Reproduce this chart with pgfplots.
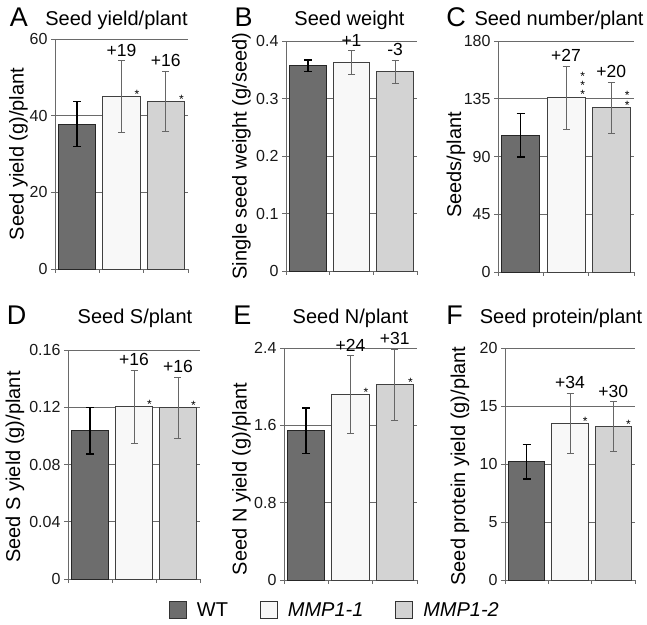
\documentclass[border=0pt]{standalone}
\usepackage{pgfplots}
\pgfplotsset{compat=1.18}
\usepackage{fontspec}
\setmainfont{Liberation Sans}
\definecolor{cWT}{HTML}{6D6D6D}
\definecolor{cM1}{HTML}{F8F8F8}
\definecolor{cM2}{HTML}{D3D3D3}
\definecolor{cGrid}{HTML}{6A6A6A}
\pgfplotsset{
  panel/.style={
    scale only axis, anchor=south west,
    xmin=-0.5, xmax=2.5, ymin=0,
    axis x line*=bottom, axis y line*=left,
    xtick={-0.5,0.5,1.5,2.5}, xticklabels={},
    tick align=outside, major tick length=4pt,
    ymajorgrids,
    grid style={line width=0.8pt, draw=cGrid},
    axis line style={line width=0.8pt, draw=cGrid},
    tick style={line width=0.8pt, draw=cGrid},
    yticklabel style={font=\fontsize{16}{18}\selectfont, text=black!90},
    /pgf/number format/assume math mode=true,
    clip=false,
  },
  wt/.style={ybar, bar width=0.84, fill=cWT, draw=black!85, line width=0.8pt,
    error bars/.cd, y dir=both, y explicit,
    error bar style={black, line width=1.4pt},
    error mark options={rotate=90, mark size=4pt, black, line width=1.4pt}},
  m1/.style={ybar, bar width=0.84, fill=cM1, draw=black!75, line width=0.8pt,
    error bars/.cd, y dir=both, y explicit,
    error bar style={black!60, line width=0.9pt},
    error mark options={rotate=90, mark size=3.5pt, black!60, line width=0.9pt}},
  m2/.style={ybar, bar width=0.84, fill=cM2, draw=black!75, line width=0.8pt,
    error bars/.cd, y dir=both, y explicit,
    error bar style={black!60, line width=0.9pt},
    error mark options={rotate=90, mark size=3.5pt, black!60, line width=0.9pt}},
  legsq/.style={legend image code/.code={\draw[##1, line width=0.8pt, draw=black!80] (0pt,-8.5pt) rectangle (17pt,8.5pt);}},
}
\tikzset{
  ann/.style={anchor=base, yshift=4.5pt, inner sep=0pt, font=\fontsize{17.5}{20}\selectfont},
  ast/.style={anchor=base, yshift=-1.6pt, inner sep=0pt, font=\fontsize{12}{12}\selectfont},
  aststack/.style={anchor=south, yshift=-1.6pt, inner sep=0pt, align=center, font=\fontsize{12}{7.6}\selectfont},
  ttl/.style={anchor=base, inner sep=0pt, font=\fontsize{20}{22}\selectfont},
  let/.style={anchor=base, inner sep=0pt, font=\fontsize{27}{30}\selectfont},
  yl/.style={rotate=90, anchor=center, inner sep=0pt, font=\fontsize{20}{22}\selectfont},
}
\begin{document}
\begin{tikzpicture}[x=1pt,y=1pt]
\path[use as bounding box] (0,0) rectangle (647,624);

% ---------- A ----------
\begin{axis}[panel, at={(55pt,355pt)}, width=133pt, height=230pt,
  ymax=60, ytick={0,20,40,60}, yticklabels={0,20,40,60}]
\addplot[wt] coordinates {(0,37.8) +- (0,5.9)};
\addplot[m1] coordinates {(1,45.0) +- (0,9.3)};
\addplot[m2] coordinates {(2,43.7) +- (0,7.9)};
\node[ann] at (axis cs:1,54.3) {+19};
\node[ann] at (axis cs:2,51.6) {+16};
\node[ast] at (axis cs:1.35,45.0) {*};
\node[ast] at (axis cs:2.35,43.7) {*};
\end{axis}

% ---------- B ----------
\begin{axis}[panel, at={(286pt,353pt)}, width=131pt, height=230pt,
  ymax=0.4, ytick={0,0.1,0.2,0.3,0.4}, yticklabels={0,0.1,0.2,0.3,0.4}]
\addplot[wt] coordinates {(0,0.357) +- (0,0.010)};
\addplot[m1] coordinates {(1,0.362) +- (0,0.021)};
\addplot[m2] coordinates {(2,0.347) +- (0,0.020)};
\node[ann] at (axis cs:1,0.383) {+1};
\node[ann] at (axis cs:2,0.367) {-3};
\end{axis}

% ---------- C ----------
\begin{axis}[panel, at={(498pt,352pt)}, width=136pt, height=231pt,
  ymax=180, ytick={0,45,90,135,180}, yticklabels={0,45,90,135,180}]
\addplot[wt] coordinates {(0,106.5) +- (0,17)};
\addplot[m1] coordinates {(1,135.9) +- (0,24.5)};
\addplot[m2] coordinates {(2,128.1) +- (0,19.8)};
\node[ann] at (axis cs:1,160.4) {+27};
\node[ann] at (axis cs:2,147.9) {+20};
\node[aststack] at (axis cs:1.37,135.9) {*\\*\\*};
\node[aststack] at (axis cs:2.35,128.1) {*\\*};
\end{axis}

% ---------- D ----------
\begin{axis}[panel, at={(68pt,45pt)}, width=132pt, height=229pt,
  ymax=0.16, ytick={0,0.04,0.08,0.12,0.16}, yticklabels={0,0.04,0.08,0.12,0.16}]
\addplot[wt] coordinates {(0,0.1037) +- (0,0.0163)};
\addplot[m1] coordinates {(1,0.1204) +- (0,0.0254)};
\addplot[m2] coordinates {(2,0.1197) +- (0,0.0213)};
\node[ann] at (axis cs:1,0.1458) {+16};
\node[ann] at (axis cs:2,0.1410) {+16};
\node[ast] at (axis cs:1.35,0.1204) {*};
\node[ast] at (axis cs:2.35,0.1197) {*};
\end{axis}

% ---------- E ----------
\begin{axis}[panel, at={(284pt,44pt)}, width=133pt, height=232pt,
  ymax=2.4, ytick={0,0.8,1.6,2.4}, yticklabels={0,0.8,1.6,2.4},
  legend style={at={(axis description cs:0.376,-0.129)}, anchor=center,
    draw=none, fill=none, inner sep=0pt, legend columns=3,
    font=\fontsize{20}{22}\selectfont,
    nodes={inner sep=0pt},
    /tikz/every odd column/.append style={column sep=10pt},
    /tikz/every even column/.append style={column sep=32pt}},
  legend cell align=left]
\addlegendimage{legsq, fill=cWT}
\addlegendentry{WT}
\addlegendimage{legsq, fill=cM1}
\addlegendentry{\textit{MMP1-1}}
\addlegendimage{legsq, fill=cM2}
\addlegendentry{\textit{MMP1-2}}
\addplot[forget plot, wt] coordinates {(0,1.544) +- (0,0.237)};
\addplot[forget plot, m1] coordinates {(1,1.920) +- (0,0.400)};
\addplot[forget plot, m2] coordinates {(2,2.021) +- (0,0.368)};
\node[ann] at (axis cs:1,2.320) {+24};
\node[ann] at (axis cs:2,2.389) {+31};
\node[ast] at (axis cs:1.35,1.920) {*};
\node[ast] at (axis cs:2.35,2.021) {*};
\end{axis}

% ---------- F ----------
\begin{axis}[panel, at={(505pt,44pt)}, width=130pt, height=232pt,
  ymax=20, ytick={0,5,10,15,20}, yticklabels={0,5,10,15,20}]
\addplot[wt] coordinates {(0,10.2) +- (0,1.5)};
\addplot[m1] coordinates {(1,13.5) +- (0,2.6)};
\addplot[m2] coordinates {(2,13.2) +- (0,2.15)};
\node[ann] at (axis cs:1,16.1) {+34};
\node[ann] at (axis cs:2,15.35) {+30};
\node[ast] at (axis cs:1.35,13.5) {*};
\node[ast] at (axis cs:2.35,13.2) {*};
\end{axis}

% ---------- titles, letters, y labels ----------
\node[let] at (19,597) {A};
\node[ttl] at (116.5,598) {Seed yield/plant};
\node[let] at (243.5,597) {B};
\node[ttl] at (349.5,598) {Seed weight};
\node[let] at (456,597) {C};
\node[ttl] at (559,598) {Seed number/plant};
\node[let] at (16.5,299) {D};
\node[ttl] at (135,300) {Seed S/plant};
\node[let] at (242.5,299) {E};
\node[ttl] at (350.5,300) {Seed N/plant};
\node[let] at (454.5,299) {F};
\node[ttl] at (561,300) {Seed protein/plant};

\node[yl] at (18.5,470) {Seed yield (g)/plant};
\node[yl] at (241.5,468) {Single seed weight (g/seed)};
\node[yl] at (456,459) {Seeds/plant};
\node[yl] at (15,157) {Seed S yield (g)/plant};
\node[yl] at (241.5,145) {Seed N yield (g)/plant};
\node[yl] at (460,158) {Seed protein yield (g)/plant};
\end{tikzpicture}
\end{document}
